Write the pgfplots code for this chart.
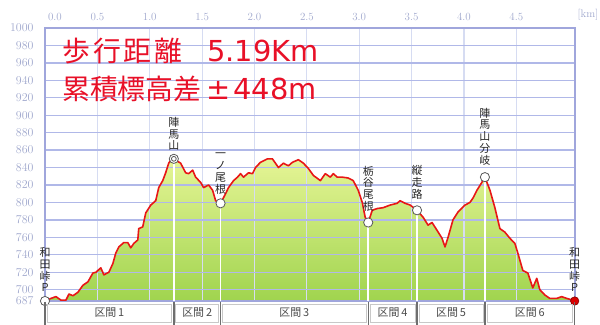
\documentclass[border=0pt]{standalone}
\usepackage{pgfplots}
\pgfplotsset{compat=1.18}
\usepackage{pgfplotstable}
\usepackage{fontspec}
\newfontfamily\jp{Noto Sans CJK JP}
\newfontfamily\dv{DejaVu Sans}
\definecolor{titlered}{RGB}{232,16,40}
\definecolor{redline}{RGB}{232,22,22}
\definecolor{filltop}{RGB}{230,245,150}
\definecolor{fillbot}{RGB}{160,212,78}
\definecolor{hgrid}{RGB}{176,184,232}
\definecolor{vgrid}{RGB}{214,220,242}
\definecolor{axiscol}{RGB}{160,166,220}
\definecolor{tickcol}{RGB}{160,168,205}
\definecolor{sepcol}{RGB}{110,110,110}
\definecolor{boxcol}{RGB}{200,200,200}

\pgfplotstableread{
x y
0 687
0.057 690
0.105 692
0.152 688
0.2 688
0.229 695
0.267 693
0.314 697
0.362 705
0.41 709
0.457 719
0.486 720
0.533 725
0.562 717
0.61 720
0.648 730
0.676 742
0.705 749
0.752 754
0.79 754
0.819 748
0.848 753
0.886 757
0.895 770
0.933 772
0.962 788
1.01 797
1.057 802
1.086 817
1.124 825
1.152 834
1.181 845
1.219 852
1.23 850
1.295 845
1.343 834
1.371 833
1.41 837
1.438 829
1.486 823
1.514 817
1.562 820
1.6 814
1.629 802
1.676 799
1.724 810
1.752 817
1.8 825
1.838 829
1.867 833
1.895 829
1.943 834
1.981 833
2.01 840
2.057 846
2.124 850
2.171 850
2.229 840
2.276 845
2.324 842
2.362 846
2.419 849
2.467 845
2.514 839
2.562 831
2.629 825
2.676 833
2.724 829
2.752 833
2.79 829
2.838 829
2.895 828
2.943 825
2.99 814
3.029 800
3.057 783
3.086 777
3.124 791
3.171 793
3.229 794
3.295 797
3.362 799
3.39 802
3.438 799
3.486 797
3.552 791
3.61 783
3.657 774
3.695 777
3.743 768
3.79 759
3.819 749
3.848 760
3.895 780
3.943 789
4.01 797
4.057 800
4.086 805
4.124 814
4.171 823
4.2 829
4.248 814
4.295 794
4.343 770
4.39 766
4.438 759
4.486 753
4.514 742
4.562 722
4.61 719
4.657 702
4.695 713
4.724 700
4.771 694
4.819 690
4.886 690
4.933 692
4.981 690
5.038 688
5.057 687
}\profile

\begin{document}
\begin{tikzpicture}
\begin{axis}[
  at={(45bp,24bp)}, anchor=south west,
  scale only axis, width=530bp, height=273bp,
  xmin=0, xmax=5.06, ymin=687, ymax=1000,
  set layers,
  clip mode=individual,
  xticklabel pos=upper,
  xtick={0,0.5,1,1.5,2,2.5,3,3.5,4,4.5},
  xticklabels={{\rlap{\hspace{3bp}0.0}},0.5,1.0,1.5,2.0,2.5,3.0,3.5,4.0,4.5},
  ytick={687,700,720,740,760,780,800,820,840,860,880,900,920,940,960,980,1000},
  /pgf/number format/1000 sep={},
  grid=major,
  x grid style={color=vgrid, line width=1.2bp},
  y grid style={color=hgrid, line width=1.3bp},
  major tick length=0pt,
  tick style={draw=none},
  axis line style={color=axiscol, line width=1.2bp},
  tick label style={font=\fontsize{11}{11}\selectfont, color=tickcol},
  xticklabel style={yshift=4bp},
  yticklabel style={xshift=-8bp, font=\fontsize{12}{12}\selectfont},
]
\addplot[draw=none, no markers, top color=filltop, bottom color=fillbot, on layer=axis background] table {\profile};
\addplot[ycomb, white, line width=1.6bp, no markers] coordinates {(1.23,850)(1.676,799)(3.086,777)(3.552,791)(4.2,829)};
\addplot[redline, line width=1.6bp, no markers, line join=round] table {\profile};
\addplot[only marks, mark=*, mark size=4.6bp, mark options={fill=white, draw=black!65, line width=0.8bp}] coordinates {(0,687)(1.23,850)(1.676,799)(3.086,777)(3.552,791)(4.2,829)};
\addplot[only marks, mark=o, mark size=2.4bp, mark options={draw=black!65, line width=0.8bp}] coordinates {(1.23,850)};
\addplot[only marks, mark=*, mark size=4.2bp, mark options={fill=red!85!black, draw=red!50!black, line width=0.6bp}] coordinates {(5.057,687)};
\tikzset{lbl/.style={anchor=south, inner sep=0pt, align=center, font=\jp\fontsize{11}{11.8}\selectfont, text=black!85}}
\node[lbl, yshift=8bp] at (axis cs:1.23,850) {陣\\馬\\山};
\node[lbl, yshift=9bp] at (axis cs:1.676,799) {一\\ノ\\尾\\根};
\node[lbl, yshift=11bp] at (axis cs:3.086,777) {栃\\谷\\尾\\根};
\node[lbl, yshift=11bp] at (axis cs:3.552,791) {縦\\走\\路};
\node[lbl, yshift=12bp] at (axis cs:4.2,829) {陣\\馬\\山\\分\\岐};
\node[lbl, yshift=9bp] at (axis cs:0,687) {和\\田\\峠\\P};
\node[lbl, yshift=9bp] at (axis cs:5.057,687) {和\\田\\峠\\P};
\coordinate (s0) at (axis cs:0,687);
\coordinate (s1) at (axis cs:1.23,687);
\coordinate (s2) at (axis cs:1.676,687);
\coordinate (s3) at (axis cs:3.086,687);
\coordinate (s4) at (axis cs:3.552,687);
\coordinate (s5) at (axis cs:4.2,687);
\coordinate (s6) at (axis cs:5.057,687);
\end{axis}
\foreach \a/\b/\t in {s0/s1/1, s1/s2/2, s2/s3/3, s3/s4/4, s4/s5/5, s5/s6/6} {
  \draw[boxcol, fill=white, line width=0.8bp] ([xshift=2bp,yshift=-3bp]\a) rectangle ([xshift=-2bp,yshift=-21bp]\b);
  \path (\a) -- (\b) node[midway, yshift=-12bp, font=\jp\fontsize{11}{11}\selectfont, text=black!70] {区間\,\t};
}
\foreach \c in {s0,s1,s2,s3,s4,s5,s6} {
  \draw[sepcol, line width=1.4bp] ([yshift=-1bp]\c) -- ([yshift=-25bp]\c);
}
\node[font=\fontsize{11}{11}\selectfont, text=tickcol] at (588bp,310bp) {[km]};
\node[anchor=base west, inner sep=0pt, font=\jp\fontsize{28}{28}\selectfont, text=titlered] at (62bp,263bp) {歩\kern3bp 行\kern3bp 距\kern3bp 離};
\node[anchor=base west, inner sep=0pt, font=\dv\fontsize{29}{29}\selectfont, text=titlered] at (207bp,263bp) {5.19Km};
\node[anchor=base west, inner sep=0pt, font=\jp\fontsize{28}{28}\selectfont, text=titlered] at (62bp,225bp) {累積標高差};
\node[anchor=base west, inner sep=0pt, font=\dv\fontsize{29}{29}\selectfont, text=titlered] at (206bp,225bp) {±\kern3bp 448m};
\pgfresetboundingbox
\path[use as bounding box] (0,0) rectangle (600bp,325bp);
\end{tikzpicture}
\end{document}
